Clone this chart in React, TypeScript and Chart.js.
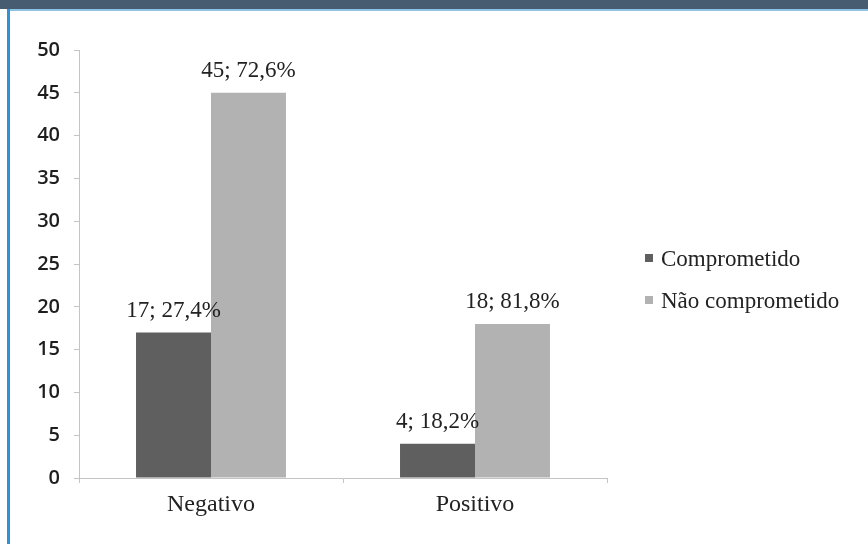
import React, { useEffect, useRef } from "react";
import { Chart, registerables } from "chart.js";

Chart.register(...registerables);

const categories = ["Negativo", "Positivo"];
const seriesNames = ["Comprometido", "Não comprometido"];
const comprometido = [17, 4];
const naoComprometido = [45, 18];
const comprometidoPct = ["27,4%", "18,2%"];
const naoComprometidoPct = ["72,6%", "81,8%"];
const yMin = 0;
const yMax = 50;
const yStep = 5;

const seriesColors = ["#5f5f5f", "#b2b2b2"];
const serif = "'Liberation Serif', 'Times New Roman', serif";
const sans = "'Open Sans', 'Liberation Sans', sans-serif";

const pctLists = [comprometidoPct, naoComprometidoPct];

const labelsPlugin = {
  id: "barLabels",
  afterDatasetsDraw(chart: any) {
    const ctx = chart.ctx;
    ctx.save();
    ctx.font = `23px ${serif}`;
    ctx.fillStyle = "#222";
    ctx.textAlign = "center";
    ctx.textBaseline = "middle";
    chart.data.datasets.forEach((ds: any, di: number) => {
      const meta = chart.getDatasetMeta(di);
      meta.data.forEach((el: any, i: number) => {
        const txt = `${ds.data[i]}; ${pctLists[di][i]}`;
        ctx.fillText(txt, el.x, el.y - 22);
      });
    });
    ctx.restore();
  },
};

const legendPlugin = {
  id: "sideLegend",
  afterDraw(chart: any) {
    const ctx = chart.ctx;
    const area = chart.chartArea;
    ctx.save();
    ctx.font = `23px ${serif}`;
    ctx.textBaseline = "middle";
    ctx.textAlign = "left";
    const x0 = area.right + 38;
    const yStart = 247;
    const gap = 42;
    chart.data.datasets.forEach((ds: any, di: number) => {
      const y = yStart + di * gap;
      ctx.fillStyle = ds.backgroundColor;
      ctx.fillRect(x0, y - 4, 8, 8);
      ctx.fillStyle = "#222";
      ctx.fillText(ds.label, x0 + 16, y + 2);
    });
    ctx.restore();
  },
};

export default function App() {
  const ref = useRef<HTMLCanvasElement | null>(null);

  useEffect(() => {
    if (!ref.current) return;
    const chart = new Chart(ref.current, {
      type: "bar",
      data: {
        labels: categories,
        datasets: [
          {
            label: seriesNames[0],
            data: comprometido,
            backgroundColor: seriesColors[0],
            categoryPercentage: 0.568,
            barPercentage: 1,
          },
          {
            label: seriesNames[1],
            data: naoComprometido,
            backgroundColor: seriesColors[1],
            categoryPercentage: 0.568,
            barPercentage: 1,
          },
        ],
      },
      options: {
        responsive: false,
        animation: false,
        layout: { padding: { left: 0, top: 39, right: 261, bottom: 0 } },
        plugins: {
          legend: { display: false },
          tooltip: { enabled: false },
        },
        scales: {
          x: {
            grid: {
              display: true,
              offset: true,
              drawOnChartArea: false,
              drawTicks: true,
              tickLength: 5,
              color: "#c4c4c4",
            },
            border: { display: true, color: "#c4c4c4", width: 1 },
            ticks: {
              color: "#222",
              font: { family: serif, size: 24 },
              padding: 7,
            },
            afterFit(scale: any) {
              scale.height = 66;
            },
          },
          y: {
            min: yMin,
            max: yMax,
            grid: {
              display: true,
              drawOnChartArea: false,
              drawTicks: true,
              tickLength: 5,
              color: "#c4c4c4",
            },
            border: { display: true, color: "#c4c4c4", width: 1 },
            ticks: {
              stepSize: yStep,
              color: "#1e1e1e",
              font: { family: sans, size: 20, weight: "600" },
              padding: 14,
            },
            afterFit(scale: any) {
              scale.width = 68;
            },
          },
        },
      },
      plugins: [labelsPlugin, legendPlugin],
    });
    return () => chart.destroy();
  }, []);

  return (
    <div
      style={{
        position: "absolute",
        left: 0,
        top: 0,
        width: 868,
        height: 544,
        background: "#ffffff",
        overflow: "hidden",
      }}
    >
      <div
        style={{
          position: "absolute",
          left: 0,
          top: 0,
          width: 868,
          height: 9,
          background: "#475b71",
        }}
      />
      <div
        style={{
          position: "absolute",
          left: 7,
          top: 9,
          width: 861,
          height: 2,
          background: "#8fc3e6",
        }}
      />
      <div
        style={{
          position: "absolute",
          left: 7,
          top: 9,
          width: 3,
          height: 535,
          background: "#3193d4",
        }}
      />
      <canvas
        ref={ref}
        width={857}
        height={533}
        style={{ position: "absolute", left: 11, top: 11, display: "block" }}
      />
    </div>
  );
}
